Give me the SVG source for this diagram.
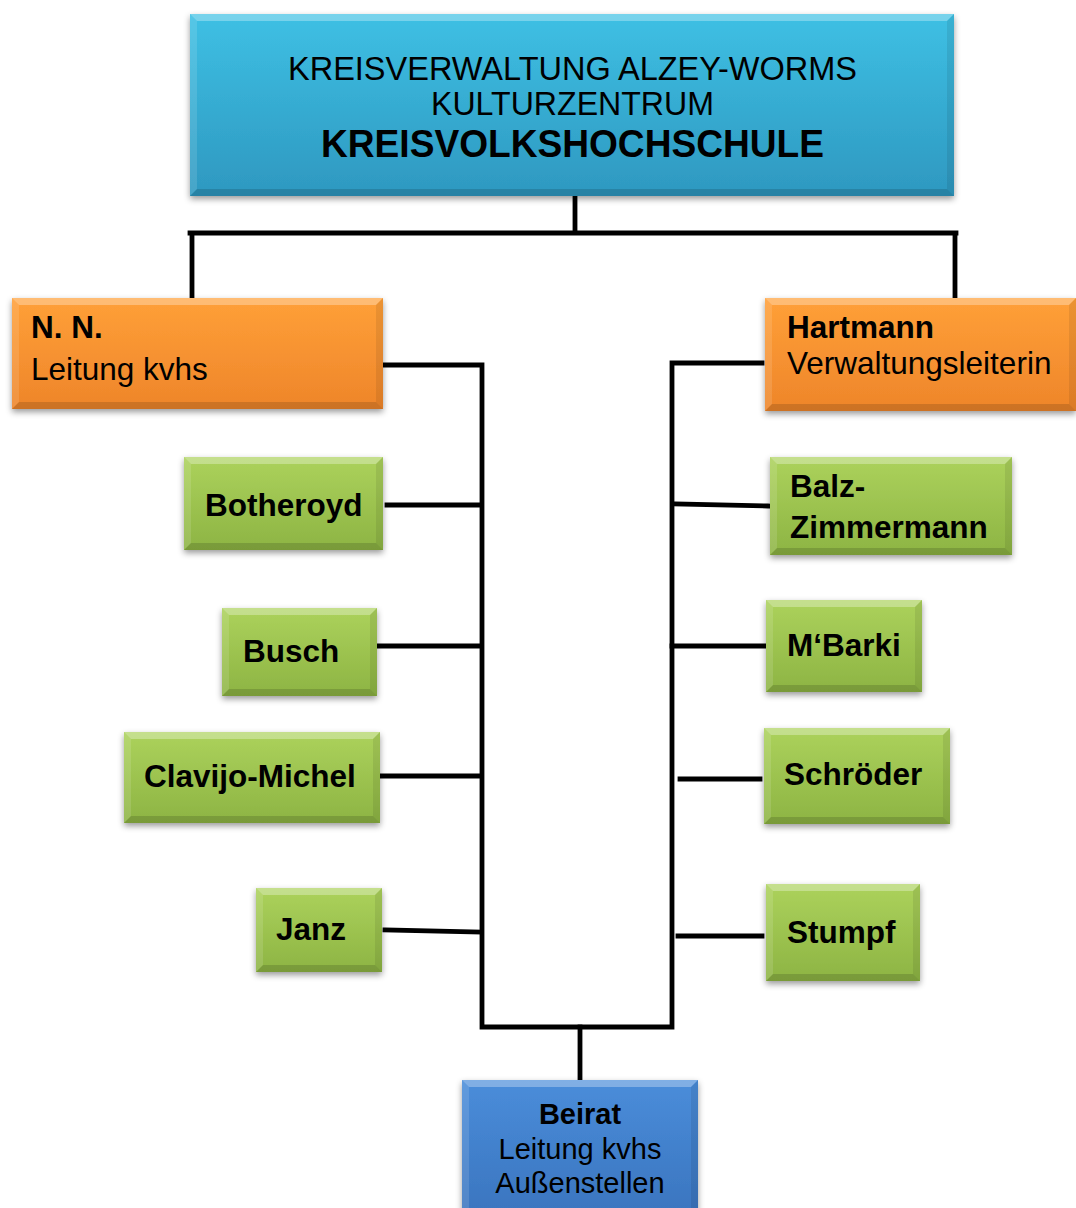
<svg xmlns="http://www.w3.org/2000/svg" width="1076" height="1208" viewBox="0 0 1076 1208">
<defs>
<linearGradient id="gTeal" x1="0" y1="0" x2="0" y2="1"><stop offset="0" stop-color="#3EC0E4"/><stop offset="1" stop-color="#2E98C0"/></linearGradient>
<linearGradient id="gOrange" x1="0" y1="0" x2="0" y2="1"><stop offset="0" stop-color="#FFA038"/><stop offset="1" stop-color="#EE852A"/></linearGradient>
<linearGradient id="gGreen" x1="0" y1="0" x2="0" y2="1"><stop offset="0" stop-color="#ACD25C"/><stop offset="1" stop-color="#8DB443"/></linearGradient>
<linearGradient id="gBlue" x1="0" y1="0" x2="0" y2="1"><stop offset="0" stop-color="#4A8DDA"/><stop offset="1" stop-color="#3A74BE"/></linearGradient>
<filter id="sh" x="-10%" y="-10%" width="120%" height="130%"><feDropShadow dx="0" dy="3" stdDeviation="3" flood-color="#000" flood-opacity="0.4"/></filter>
</defs>
<style>
.bt{fill:#fff;fill-opacity:.3}
.bb{fill:#000;fill-opacity:.14}
.bl{fill:#fff;fill-opacity:.12}
.br{fill:#000;fill-opacity:.08}
.t{font-family:"Liberation Sans",Arial,sans-serif;fill:#000}
.r{font-size:31.5px}
.b{font-size:31.5px;font-weight:bold}
.s{font-size:29px}
.sb{font-size:29px;font-weight:bold}
.c{stroke:#000;stroke-width:4.8;fill:none;stroke-linecap:square}
</style>
<rect width="1076" height="1208" fill="#fff"/>
<g id="connectors">
<path class="c" d="M575,198 V233 M190,233 H956 M192,233 V298 M955,233 V298"/>
<path class="c" d="M383,365 H482 V1027 H672 V363 H762"/>
<path class="c" d="M580,1027 V1080"/>
<path class="c" d="M387,505 H480 M379,646 H478 M382,776 H480 M385,930 L480,932"/>
<path class="c" d="M675,504 L768,506 M672,646 H765 M680,779 H760 M678,936 H762"/>
</g>
<g id="top">
<rect x="190" y="14" width="764" height="182" fill="url(#gTeal)" filter="url(#sh)"/>
<polygon class="bt" points="190,14 954,14 947,21 197,21"/>
<polygon class="bb" points="190,196 954,196 947,189 197,189"/>
<polygon class="bl" points="190,14 197,21 197,189 190,196"/>
<polygon class="br" points="954,14 947,21 947,189 954,196"/>
<text class="t" font-size="33" x="572.5" y="80" text-anchor="middle" textLength="569" lengthAdjust="spacingAndGlyphs">KREISVERWALTUNG ALZEY-WORMS</text>
<text class="t" font-size="33" x="572.5" y="115" text-anchor="middle" textLength="283" lengthAdjust="spacingAndGlyphs">KULTURZENTRUM</text>
<text class="t" font-size="38" font-weight="bold" x="572.5" y="157" text-anchor="middle" textLength="503" lengthAdjust="spacingAndGlyphs">KREISVOLKSHOCHSCHULE</text>
</g>
<g id="nn">
<rect x="12" y="298" width="371" height="111" fill="url(#gOrange)" filter="url(#sh)"/>
<polygon class="bt" points="12,298 383,298 376,305 19,305"/>
<polygon class="bb" points="12,409 383,409 376,402 19,402"/>
<polygon class="bl" points="12,298 19,305 19,402 12,409"/>
<polygon class="br" points="383,298 376,305 376,402 383,409"/>
<text class="t b" x="31" y="338">N. N.</text>
<text class="t r" x="31" y="380">Leitung kvhs</text>
</g>
<g id="hartmann">
<rect x="765" y="298" width="311" height="113" fill="url(#gOrange)" filter="url(#sh)"/>
<polygon class="bt" points="765,298 1076,298 1069,305 772,305"/>
<polygon class="bb" points="765,411 1076,411 1069,404 772,404"/>
<polygon class="bl" points="765,298 772,305 772,404 765,411"/>
<polygon class="br" points="1076,298 1069,305 1069,404 1076,411"/>
<text class="t b" x="787" y="338">Hartmann</text>
<text class="t r" x="787" y="374">Verwaltungsleiterin</text>
</g>
<g id="botheroyd">
<rect x="184" y="457" width="199" height="93" fill="url(#gGreen)" filter="url(#sh)"/>
<polygon class="bt" points="184,457 383,457 376,464 191,464"/>
<polygon class="bb" points="184,550 383,550 376,543 191,543"/>
<polygon class="bl" points="184,457 191,464 191,543 184,550"/>
<polygon class="br" points="383,457 376,464 376,543 383,550"/>
<text class="t b" x="205" y="516">Botheroyd</text>
</g>
<g id="busch">
<rect x="222" y="608" width="155" height="88" fill="url(#gGreen)" filter="url(#sh)"/>
<polygon class="bt" points="222,608 377,608 370,615 229,615"/>
<polygon class="bb" points="222,696 377,696 370,689 229,689"/>
<polygon class="bl" points="222,608 229,615 229,689 222,696"/>
<polygon class="br" points="377,608 370,615 370,689 377,696"/>
<text class="t b" x="243" y="662">Busch</text>
</g>
<g id="clavijo">
<rect x="124" y="732" width="256" height="91" fill="url(#gGreen)" filter="url(#sh)"/>
<polygon class="bt" points="124,732 380,732 373,739 131,739"/>
<polygon class="bb" points="124,823 380,823 373,816 131,816"/>
<polygon class="bl" points="124,732 131,739 131,816 124,823"/>
<polygon class="br" points="380,732 373,739 373,816 380,823"/>
<text class="t b" x="144" y="787">Clavijo-Michel</text>
</g>
<g id="janz">
<rect x="256" y="888" width="126" height="84" fill="url(#gGreen)" filter="url(#sh)"/>
<polygon class="bt" points="256,888 382,888 375,895 263,895"/>
<polygon class="bb" points="256,972 382,972 375,965 263,965"/>
<polygon class="bl" points="256,888 263,895 263,965 256,972"/>
<polygon class="br" points="382,888 375,895 375,965 382,972"/>
<text class="t b" x="276" y="940">Janz</text>
</g>
<g id="balz">
<rect x="770" y="457" width="242" height="98" fill="url(#gGreen)" filter="url(#sh)"/>
<polygon class="bt" points="770,457 1012,457 1005,464 777,464"/>
<polygon class="bb" points="770,555 1012,555 1005,548 777,548"/>
<polygon class="bl" points="770,457 777,464 777,548 770,555"/>
<polygon class="br" points="1012,457 1005,464 1005,548 1012,555"/>
<text class="t b" x="790" y="497">Balz-</text>
<text class="t b" x="790" y="538">Zimmermann</text>
</g>
<g id="mbarki">
<rect x="766" y="600" width="156" height="92" fill="url(#gGreen)" filter="url(#sh)"/>
<polygon class="bt" points="766,600 922,600 915,607 773,607"/>
<polygon class="bb" points="766,692 922,692 915,685 773,685"/>
<polygon class="bl" points="766,600 773,607 773,685 766,692"/>
<polygon class="br" points="922,600 915,607 915,685 922,692"/>
<text class="t b" x="787" y="656">M‘Barki</text>
</g>
<g id="schroeder">
<rect x="764" y="728" width="186" height="96" fill="url(#gGreen)" filter="url(#sh)"/>
<polygon class="bt" points="764,728 950,728 943,735 771,735"/>
<polygon class="bb" points="764,824 950,824 943,817 771,817"/>
<polygon class="bl" points="764,728 771,735 771,817 764,824"/>
<polygon class="br" points="950,728 943,735 943,817 950,824"/>
<text class="t b" x="784" y="785">Schröder</text>
</g>
<g id="stumpf">
<rect x="766" y="884" width="154" height="97" fill="url(#gGreen)" filter="url(#sh)"/>
<polygon class="bt" points="766,884 920,884 913,891 773,891"/>
<polygon class="bb" points="766,981 920,981 913,974 773,974"/>
<polygon class="bl" points="766,884 773,891 773,974 766,981"/>
<polygon class="br" points="920,884 913,891 913,974 920,981"/>
<text class="t b" x="787" y="943">Stumpf</text>
</g>
<g id="beirat">
<rect x="462" y="1080" width="236" height="140" fill="url(#gBlue)" filter="url(#sh)"/>
<polygon class="bt" points="462,1080 698,1080 691,1087 469,1087"/>
<polygon class="bl" points="462,1080 469,1087 469,1220 462,1220"/>
<polygon class="br" points="698,1080 691,1087 691,1220 698,1220"/>
<text class="t sb" x="580" y="1124" text-anchor="middle">Beirat</text>
<text class="t s" x="580" y="1159" text-anchor="middle">Leitung kvhs</text>
<text class="t s" x="580" y="1193" text-anchor="middle">Außenstellen</text>
</g>
</svg>
